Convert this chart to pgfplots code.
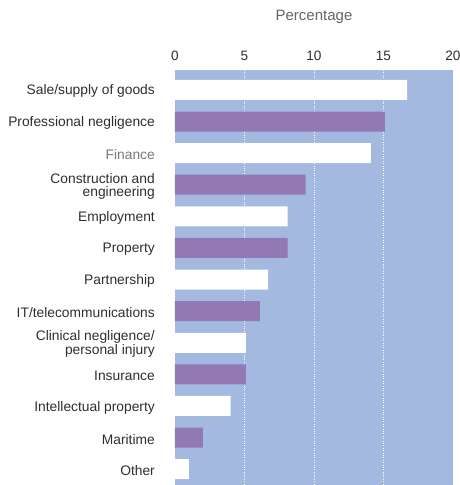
\documentclass[border=0pt]{standalone}
\usepackage{pgfplots}
\pgfplotsset{compat=1.18}
\usepackage{fontspec}
\setmainfont{Liberation Sans}
\definecolor{bgblue}{HTML}{A3B9E0}
\definecolor{barpurple}{HTML}{9279B4}
\definecolor{txt}{HTML}{2E2E2E}
\definecolor{lbl}{HTML}{666666}
\begin{document}
\begin{tikzpicture}
\begin{axis}[
 at={(0,0)}, anchor=south west,
 scale only axis, width=278bp, height=415bp,
 xbar, bar width=20bp, bar shift=0pt,
 xmin=0, xmax=20, ymin=-0.63, ymax=12.5, y dir=reverse,
 axis background/.style={fill=bgblue},
 axis line style={draw=none},
 major tick length=0pt,
 xtick={0,5,10,15,20},
 xticklabel pos=upper,
 /pgf/number format/assume math mode=true,
 xticklabel style={font=\fontsize{13.6bp}{14bp}\selectfont, text=txt, anchor=center, yshift=14bp},
 extra x ticks={5,10,15},
 extra x tick labels={},
 extra x tick style={grid=major, major grid style={white, dotted, line width=0.7pt}},
 xlabel={Percentage},
 xlabel style={at={(axis description cs:0.5,1)}, anchor=center, yshift=53bp, font=\fontsize{15bp}{16bp}\selectfont, text=lbl},
 ytick={0,...,12},
 yticklabels={Sale/supply of goods, Professional negligence, \textcolor[HTML]{777777}{Finance}, {Construction and\\engineering}, Employment, Property, Partnership, IT/telecommunications, {Clinical negligence/\\personal injury}, Insurance, Intellectual property, Maritime, Other},
 yticklabel style={align=right, text=txt, font=\fontsize{13.8bp}{12.5bp}\selectfont, inner sep=0pt, xshift=-20bp, yshift=-1.5bp},
]
\addplot[fill=white, draw=none] coordinates {(16.7,0) (14.1,2) (8.1,4) (6.7,6) (5.1,8) (4.0,10) (1.0,12)};
\addplot[fill=barpurple, draw=none] coordinates {(15.1,1) (9.4,3) (8.1,5) (6.1,7) (5.1,9) (2.0,11)};
\end{axis}
\pgfresetboundingbox
\useasboundingbox (-175bp,0) rectangle (285bp,485bp);
\end{tikzpicture}
\end{document}
